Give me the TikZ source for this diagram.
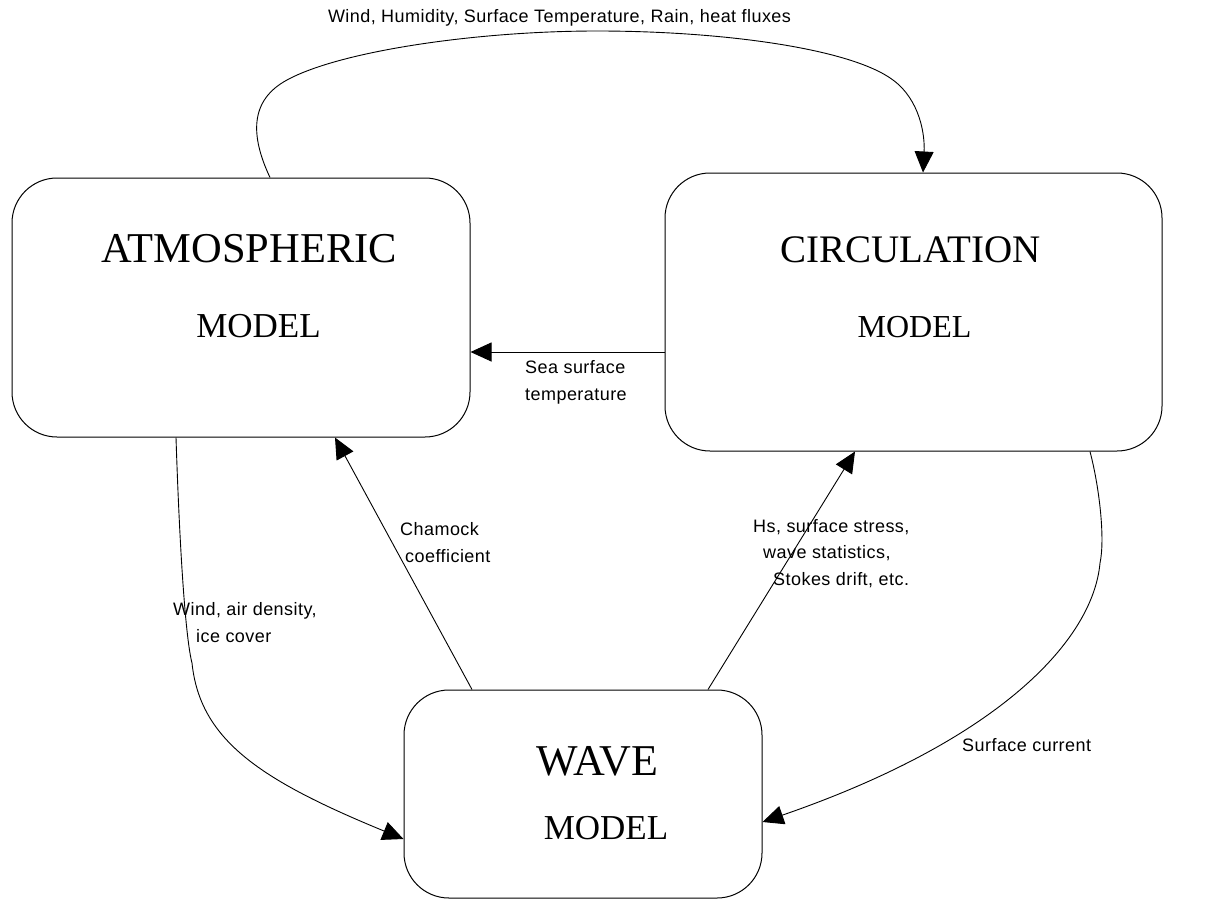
\documentclass[tikz,border=0pt]{standalone}
\usepackage{fontspec}
\setmainfont{Liberation Serif}
\newfontfamily\labelfont[LetterSpace=2.5]{Liberation Sans}
\usetikzlibrary{arrows.meta}

\tikzset{
  modelbox/.style={draw, line width=1pt, rounded corners=45pt, inner sep=0pt},
  bigword/.style={anchor=base, inner sep=0pt},
  smallword/.style={anchor=base, inner sep=0pt},
  flowlabel/.style={inner sep=0pt, align=left, font=\labelfont\fontsize{18}{26.5}\selectfont},
  flow/.style={line width=0.9pt, -{Triangle[length=21pt,width=19pt]}}
}

\begin{document}
\begin{tikzpicture}[x=1pt, y=-1pt]
  \useasboundingbox (0,0) rectangle (1217,899);

  % model boxes
  \node[modelbox, minimum width=458pt, minimum height=259pt] (atm) at (241,307.5) {};
  \node[modelbox, minimum width=497pt, minimum height=278pt] (circ) at (913.5,312) {};
  \node[modelbox, minimum width=358pt, minimum height=208pt] (wave) at (583,794) {};

  % box titles
  \node[bigword, font=\fontsize{42.5}{42}\selectfont] (atmname) at (249.5,262) {ATMOSPHERIC};
  \node[smallword, font=\fontsize{35}{35}\selectfont] (atmmodel) at (258.5,337) {MODEL};
  \node[bigword, font=\fontsize{39}{39}\selectfont] (circname) at (910.5,262) {CIRCULATION};
  \node[smallword, font=\fontsize{32}{32}\selectfont] (circmodel) at (914.5,337) {MODEL};
  \node[bigword, font=\fontsize{44}{44}\selectfont] (wavename) at (597.5,775) {WAVE};
  \node[smallword, font=\fontsize{35}{35}\selectfont] (wavemodel) at (606,839) {MODEL};

  % atmosphere -> circulation (over the top)
  \draw[flow] ([xshift=29pt]atm.north)
      .. controls (250,135) and (250,100) .. (287,80)
      .. controls (340,51) and (477,31) .. (597,31)
      .. controls (720,31) and (850,48) .. (893,80)
      .. controls (920,100) and (925,135) .. ([xshift=9.5pt]circ.north);

  % circulation -> atmosphere
  \draw[flow] ([yshift=-40pt]circ.west) -- ([yshift=-40pt]circ.west -| atm.east);

  % wave -> atmosphere
  \draw[flow] ([xshift=-111pt]wave.north) -- ([xshift=94pt]atm.south);

  % wave -> circulation
  \draw[flow] ([xshift=125pt]wave.north) -- ([xshift=-58.5pt]circ.south);

  % atmosphere -> wave
  \draw[flow] ([xshift=-65pt]atm.south)
      .. controls (180,560) and (186,640) .. (192,663)
      .. controls (200,740) and (260,780) .. ([yshift=-45pt]wave.west);

  % circulation -> wave
  \draw[flow] ([xshift=176.5pt]circ.south)
      .. controls (1100,490) and (1105,540) .. (1100,563)
      .. controls (1093,640) and (1000,740) .. ([yshift=-28pt]wave.east);

  % connector labels
  \node[flowlabel, anchor=center] (toplabel) at (559.5,18)
      {Wind, Humidity, Surface Temperature, Rain, heat fluxes};
  \node[flowlabel, anchor=west] (sstlabel) at (525,382.5)
      {Sea surface\\temperature};
  \node[flowlabel, anchor=west] (chlabel) at (400,542.5)
      {Chamock\\\hspace*{5pt}coefficient};
  \node[flowlabel, anchor=west] (windlabel) at (173,622.5)
      {Wind, air density,\\\hspace*{23pt}ice cover};
  \node[flowlabel, anchor=west] (hslabel) at (753,553.5)
      {Hs, surface stress,\\\hspace*{10pt}wave statistics,\\\hspace*{20pt}Stokes drift, etc.};
  \node[flowlabel, anchor=west] (curlabel) at (962,745)
      {Surface current};
\end{tikzpicture}
\end{document}
